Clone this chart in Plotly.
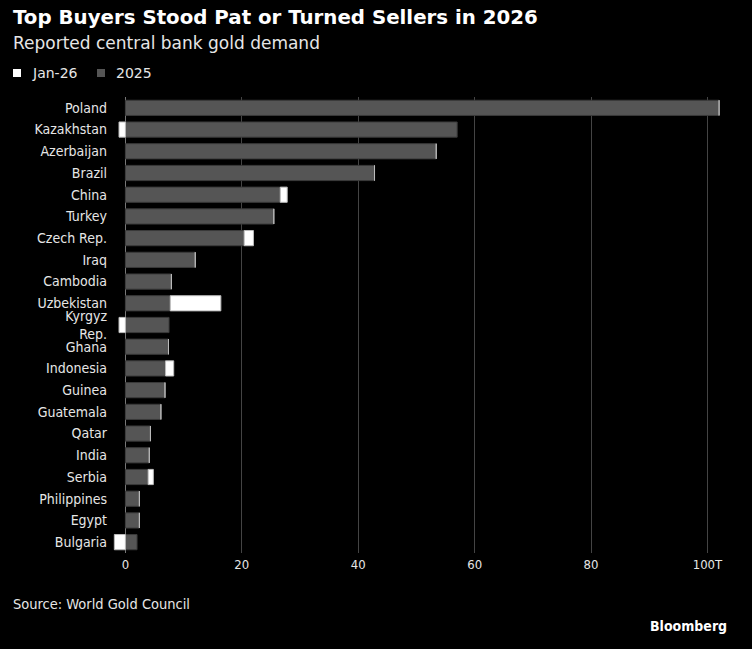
import plotly.graph_objects as go

# Reported central bank gold demand, tonnes
countries = ["Poland", "Kazakhstan", "Azerbaijan", "Brazil", "China", "Turkey",
             "Czech Rep.", "Iraq", "Cambodia", "Uzbekistan", "Kyrgyz<br>Rep.", "Ghana",
             "Indonesia", "Guinea", "Guatemala", "Qatar", "India", "Serbia",
             "Philippines", "Egypt", "Bulgaria"]
y2025 = [102.0, 57.0, 53.4, 42.8, 26.6, 25.5, 20.4, 12.0, 7.9, 7.7, 7.5, 7.4,
         6.9, 6.8, 6.1, 4.3, 4.1, 3.9, 2.4, 2.4, 2.0]
jan26 = [0, -1.1, 0, 0, 1.2, 0, 1.6, 0, 0, 8.7, -1.1, 0,
         1.4, 0, 0, 0, 0, 0.9, 0, 0, -1.9]

tick_vals = [0, 20, 40, 60, 80, 100]
tick_text = ["0", "20", "40", "60", "80", "100T"]

FONT = "DejaVu Sans Condensed, DejaVu Sans, sans-serif"
GRAY = "#555555"

fig = go.Figure()

fig.add_trace(go.Bar(
    y=countries, x=y2025, name="2025", orientation="h",
    marker=dict(color=GRAY, line=dict(color="#3a3a3a", width=1)),
    width=0.7, showlegend=False,
))
fig.add_trace(go.Bar(
    y=countries, x=jan26, name="Jan-26", orientation="h",
    marker=dict(color="#ffffff", line=dict(color="#bbbbbb", width=1)),
    width=0.7, showlegend=False,
))

# plot area in pixels: left 113, right 722, top 97, bottom 553
W, H = 752, 649
L, R, T, B = 113, 30, 97, 96
pw = W - L - R
ph = H - T - B

def px_x(p):
    return (p - L) / pw

def px_y(p):
    return 1 + (T - p) / ph

def text(x, y, s, size, color="#e6e6e6", family=FONT, anchor="left"):
    fig.add_annotation(
        x=px_x(x), y=px_y(y), xref="paper", yref="paper",
        xanchor=anchor, yanchor="middle", showarrow=False,
        text=s, font=dict(family=family, size=size, color=color),
    )

text(11, 18, "<b>Top Buyers Stood Pat or Turned Sellers in 2026</b>", 19.8,
     color="white", family="DejaVu Sans")
text(11, 43, "Reported central bank gold demand", 17, family="DejaVu Sans")
text(11, 604, "Source: World Gold Council", 14.5)
text(729, 626, "<b>Bloomberg</b>", 14, color="white", anchor="right")

# legend drawn by hand: small rounded squares + labels
for x0, color, label in [(13, "white", "Jan-26"), (97, GRAY, "2025")]:
    fig.add_shape(
        type="rect", xref="paper", yref="paper",
        x0=px_x(x0), x1=px_x(x0 + 8), y0=px_y(77), y1=px_y(69),
        fillcolor=color, line=dict(width=0),
    )
    text(x0 + 17, 73, label, 14, family="DejaVu Sans")

fig.update_layout(
    width=W, height=H,
    margin=dict(l=L, r=R, t=T, b=B),
    barmode="relative",
    bargap=0.3,
    paper_bgcolor="black",
    plot_bgcolor="black",
    font=dict(family=FONT, size=14, color="#e6e6e6"),
    showlegend=False,
    xaxis=dict(
        range=[-2.13, 102.5],
        tickvals=tick_vals, ticktext=tick_text,
        showgrid=True, gridcolor="#444444", gridwidth=1,
        zeroline=True, zerolinecolor="#777777", zerolinewidth=1,
        showline=False, ticks="", ticklabelstandoff=2,
        tickfont=dict(family=FONT, size=13, color="#e6e6e6"),
        fixedrange=True,
    ),
    yaxis=dict(
        autorange="reversed",
        showgrid=False, zeroline=False, showline=False,
        ticks="", ticklabelstandoff=5,
        tickfont=dict(family=FONT, size=14, color="#e6e6e6"),
        fixedrange=True,
    ),
)

fig.write_html(
    "out.html",
    config={"displayModeBar": False},
    post_script="document.body.style.margin='0';document.body.style.background='black';",
)
